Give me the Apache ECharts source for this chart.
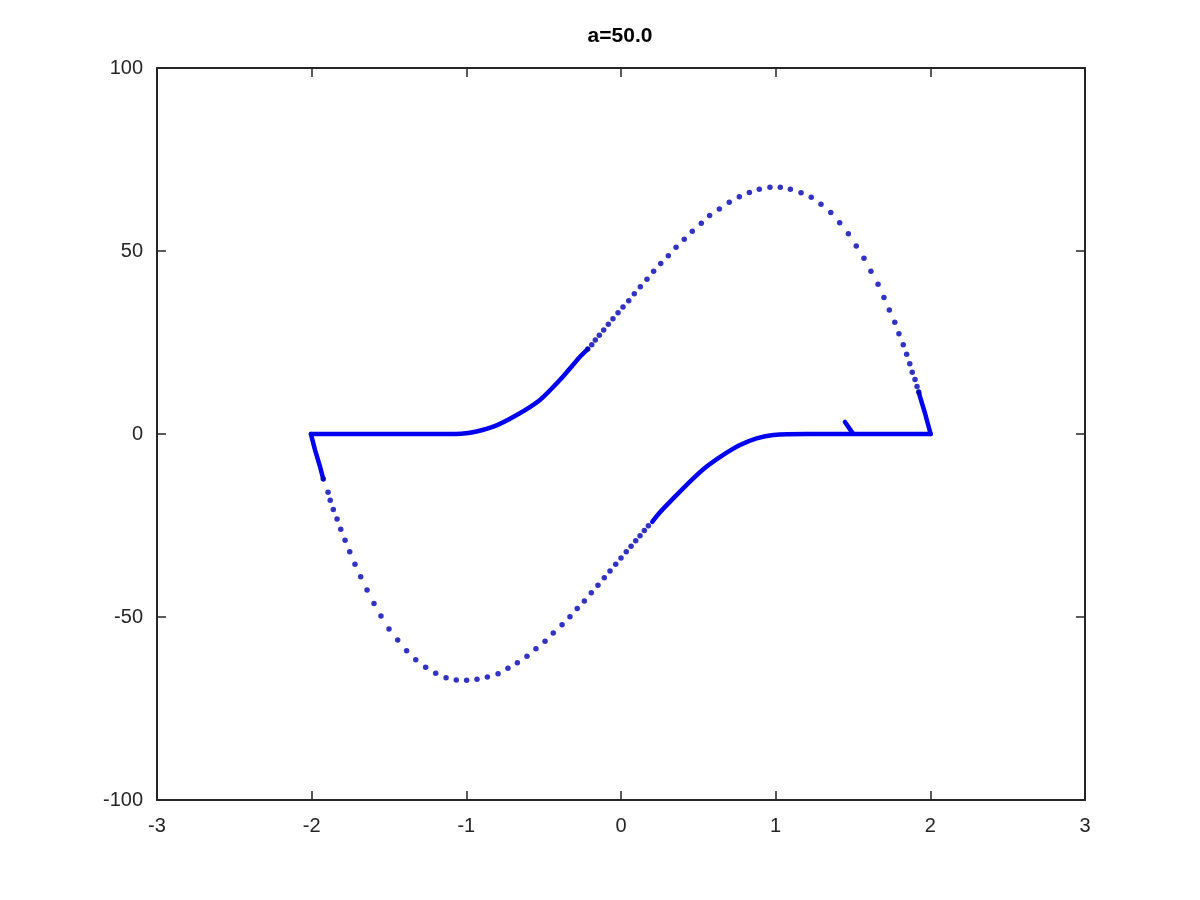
<!DOCTYPE html>
<html>
<head>
<meta charset="utf-8">
<script src="https://cdn.jsdelivr.net/npm/echarts@6/dist/echarts.min.js"></script>
<style>
html,body{margin:0;padding:0;background:#fff;}
#chart{width:1200px;height:900px;}
</style>
</head>
<body>
<div id="chart"></div>
<script>
// ---- data ----
var titleText = 'a=50.0';
var xTicks = [-3, -2, -1, 0, 1, 2, 3];
var yTicks = [-100, -50, 0, 50, 100];

// sparse dots, upper arc (from the dense part through the peak down to x=2)
var upperArcX = [-0.215,-0.189,-0.166,-0.140,-0.112,-0.082,-0.052,-0.019,0.013,0.050,0.086,0.125,0.168,0.211,0.257,0.306,0.356,0.409,0.461,0.519,0.573,0.636,0.700,0.765,0.830,0.894,0.963,1.030,1.095,1.164,1.230,1.293,1.356,1.414,1.470,1.521,1.571,1.616,1.662,1.700,1.735,1.770,1.797,1.825,1.847,1.867,1.883,1.901,1.914,1.925];
var upperArcY = [23.2,24.4,25.7,27.0,28.4,30.0,31.5,33.1,34.7,36.4,38.3,40.2,42.3,44.5,46.6,48.7,51.0,53.2,55.4,57.6,59.7,61.5,63.3,64.8,66.0,66.9,67.4,67.4,66.9,65.9,64.7,62.8,60.5,57.7,54.7,51.4,48.0,44.5,40.9,37.3,33.9,30.5,27.4,24.4,21.8,19.2,16.9,14.9,13.0,11.5];

// sparse dots, lower arc (from the dense part through the trough up to x=-2)
var lowerArcX = [0.177,0.151,0.123,0.095,0.065,0.034,0.000,-0.034,-0.071,-0.108,-0.149,-0.192,-0.237,-0.283,-0.330,-0.381,-0.438,-0.491,-0.550,-0.608,-0.670,-0.731,-0.795,-0.864,-0.931,-0.998,-1.065,-1.131,-1.198,-1.263,-1.327,-1.386,-1.444,-1.500,-1.552,-1.597,-1.642,-1.683,-1.720,-1.754,-1.784,-1.812,-1.836,-1.860,-1.880,-1.894,-1.925];
var lowerArcY = [-25.1,-26.4,-27.8,-29.2,-30.7,-32.2,-33.9,-35.6,-37.4,-39.3,-41.3,-43.4,-45.6,-47.7,-49.9,-52.1,-54.4,-56.6,-58.7,-60.7,-62.5,-64.0,-65.5,-66.4,-67.0,-67.3,-67.2,-66.6,-65.4,-63.7,-61.7,-59.2,-56.3,-53.3,-49.7,-46.3,-42.6,-39.0,-35.6,-32.2,-29.0,-26.0,-23.2,-20.6,-18.1,-15.9,-12.3];

// densely packed dots that merge into solid strokes
var upperDenseX = [-2.005,-1.5,-1.2,-1.106,-0.976,-0.826,-0.674,-0.524,-0.394,-0.265,-0.215];
var upperDenseY = [0,0,0,0,0.36,2.0,5.2,9.3,14.8,21.1,23.2];
var lowerDenseX = [2.002,1.5,1.2,0.985,0.877,0.769,0.661,0.554,0.446,0.338,0.252,0.202];
var lowerDenseY = [0,0,0,-0.27,-1.17,-3.0,-5.7,-8.9,-13.0,-17.6,-21.4,-24.0];
var leftCornerX = [-1.925,-1.946,-1.978,-2.005];
var leftCornerY = [-12.3,-8.9,-4.4,0];
var rightCornerX = [1.925,1.933,1.966,2.002];
var rightCornerY = [11.5,10.2,5.6,0];
var startX = [1.448,1.5];
var startY = [3.3,0.1];

function pairs(xs, ys){ return xs.map(function(x,i){ return [x, ys[i]]; }); }

var dotColor = '#0000b4';
var lineColor = '#0000ee';
var axisColor = '#262626';
var font = 'Liberation Sans, Arial, Helvetica, sans-serif';

function denseSeries(xs, ys, smooth){
  return {
    type: 'line', data: pairs(xs, ys), showSymbol: false, smooth: smooth ? 0.25 : false,
    lineStyle: {color: lineColor, width: 4.5, cap: 'round', join: 'round'},
    silent: true, z: 3
  };
}

var chart = echarts.init(document.getElementById('chart'), null, {renderer: 'canvas'});
var xBase = {
  type: 'value', min: -3, max: 3, interval: 1,
  axisLine: {show: true, onZero: false, lineStyle: {color: axisColor, width: 2}},
  axisTick: {show: true, inside: true, length: 9, lineStyle: {color: axisColor, width: 1.5}},
  splitLine: {show: false}
};
var yBase = {
  type: 'value', min: -100, max: 100, interval: 50,
  axisLine: {show: true, onZero: false, lineStyle: {color: axisColor, width: 2}},
  axisTick: {show: true, inside: true, length: 9, lineStyle: {color: axisColor, width: 1.5}},
  splitLine: {show: false}
};

chart.setOption({
  animation: false,
  backgroundColor: '#ffffff',
  title: {
    text: titleText, left: 620, top: 26, padding: 0, textAlign: 'center',
    textStyle: {fontFamily: font, fontWeight: 'bold', fontSize: 21, color: '#000'}
  },
  grid: {left: 157, right: 115, top: 68, bottom: 100, containLabel: false},
  xAxis: [
    Object.assign({}, xBase, {position: 'bottom',
      axisLabel: {show: true, margin: 16, color: axisColor, fontFamily: font, fontSize: 20,
        formatter: function(v){ return xTicks.indexOf(v) >= 0 ? String(v) : ''; }}}),
    Object.assign({}, xBase, {position: 'top', axisLabel: {show: false}})
  ],
  yAxis: [
    Object.assign({}, yBase, {position: 'left',
      axisLabel: {show: true, margin: 14, color: axisColor, fontFamily: font, fontSize: 20,
        formatter: function(v){ return yTicks.indexOf(v) >= 0 ? String(v) : ''; }}}),
    Object.assign({}, yBase, {position: 'right', axisLabel: {show: false}})
  ],
  series: [
    denseSeries(upperDenseX, upperDenseY, true),
    denseSeries(lowerDenseX, lowerDenseY, true),
    denseSeries(leftCornerX, leftCornerY, false),
    denseSeries(rightCornerX, rightCornerY, false),
    denseSeries(startX, startY, false),
    {type: 'scatter', data: pairs(upperArcX, upperArcY), symbol: 'circle', symbolSize: 5.5,
      itemStyle: {color: dotColor}, silent: true, z: 4},
    {type: 'scatter', data: pairs(lowerArcX, lowerArcY), symbol: 'circle', symbolSize: 5.5,
      itemStyle: {color: dotColor}, silent: true, z: 4}
  ]
});
</script>
</body>
</html>
